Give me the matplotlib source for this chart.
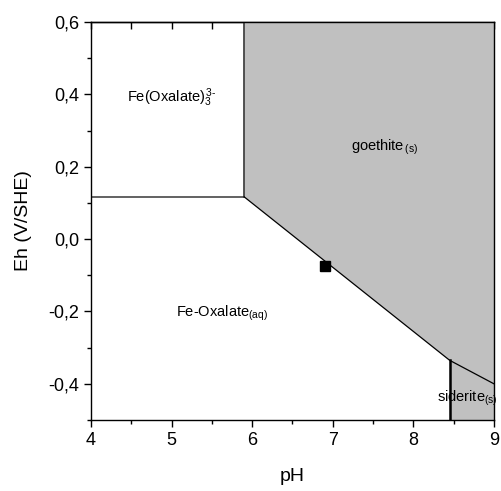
import numpy as np
import matplotlib
matplotlib.use('Agg')
import matplotlib.pyplot as plt
from matplotlib.ticker import MultipleLocator, FuncFormatter

plt.rcParams['font.family'] = ['Liberation Sans', 'DejaVu Sans']
plt.rcParams['mathtext.fontset'] = 'custom'
plt.rcParams['mathtext.rm'] = 'Liberation Sans'
plt.rcParams['mathtext.it'] = 'Liberation Sans'

# boundaries of the Eh-pH diagram
upper_ph = [4.0, 5.9]          # Fe(Oxalate)3 / Fe-Oxalate(aq) boundary
upper_eh = [0.117, 0.117]
wall_ph = [5.9, 5.9]           # Fe(Oxalate)3 / goethite boundary
wall_eh = [0.117, 0.6]
goe_ph = [5.9, 8.45, 9.0]      # goethite lower boundary
goe_eh = [0.117, -0.335, -0.40]
sid_ph = [8.45, 8.45]          # siderite left boundary
sid_eh = [-0.5, -0.335]
sample_ph = [6.9]
sample_eh = [-0.073]

fig = plt.figure(figsize=(5.01, 4.91), dpi=100)
ax = fig.add_axes([0.1816, 0.1446, 0.8044, 0.8104])

gray = '#c0c0c0'
# goethite field
ax.fill(goe_ph + [9.0, 5.9], goe_eh + [0.6, 0.6], color=gray, lw=0, zorder=3)
# siderite field
ax.fill(sid_ph + [9.0, 9.0], sid_eh + [-0.40, -0.5], color=gray, lw=0, zorder=3)

ax.plot(upper_ph, upper_eh, color='#555555', lw=1.3, zorder=4)
ax.plot(wall_ph, wall_eh, color='#444444', lw=1.3, zorder=4)
ax.plot(goe_ph, goe_eh, color='black', lw=0.9, zorder=4)
ax.plot(sid_ph, sid_eh, color='black', lw=1.8, zorder=4)
ax.plot(sample_ph, sample_eh, 's', color='black', ms=6.5, zorder=5)

for s in ax.spines.values():
    s.set_zorder(6)
    s.set_linewidth(1.0)

lab = dict(fontsize=10.5, va='center', zorder=7)
ax.text(4.447, 0.392, r'Fe(Oxalate)$_3^{\,3\text{-}}$', **lab)
ax.text(7.228, 0.254, r'goethite$_{\,(s)}$', **lab)
ax.text(5.05, -0.205, r'Fe-Oxalate$_{(aq)}$', **lab)
ax.text(8.29, -0.44, r'siderite$_{(s)}$', **lab)

ax.set_xlim(4, 9)
ax.set_ylim(-0.5, 0.6)
ax.xaxis.set_major_locator(MultipleLocator(1))
ax.xaxis.set_minor_locator(MultipleLocator(0.5))
ax.yaxis.set_major_locator(MultipleLocator(0.2))
ax.yaxis.set_minor_locator(MultipleLocator(0.1))
ax.yaxis.set_major_formatter(FuncFormatter(lambda v, p: f'{v:.1f}'.replace('.', ',').replace('-0,0', '0,0')))

ax.tick_params(axis='both', which='both', labelsize=13, width=1.0, direction='out')
ax.tick_params(axis='both', which='major', length=5)
ax.tick_params(axis='both', which='minor', length=3)

# inward ticks along the top, hidden under the grey field
top = ax.secondary_xaxis('top')
top.set_zorder(2)
top.xaxis.set_major_locator(MultipleLocator(1))
top.xaxis.set_minor_locator(MultipleLocator(0.5))
top.tick_params(which='both', direction='in', labeltop=False, width=1.0, length=5)
top.spines['top'].set_linewidth(1.0)

ax.set_xlabel('pH', fontsize=14, labelpad=14)
ax.set_ylabel('Eh (V/SHE)', fontsize=14, labelpad=12)

fig.savefig('out.png', dpi=100)
